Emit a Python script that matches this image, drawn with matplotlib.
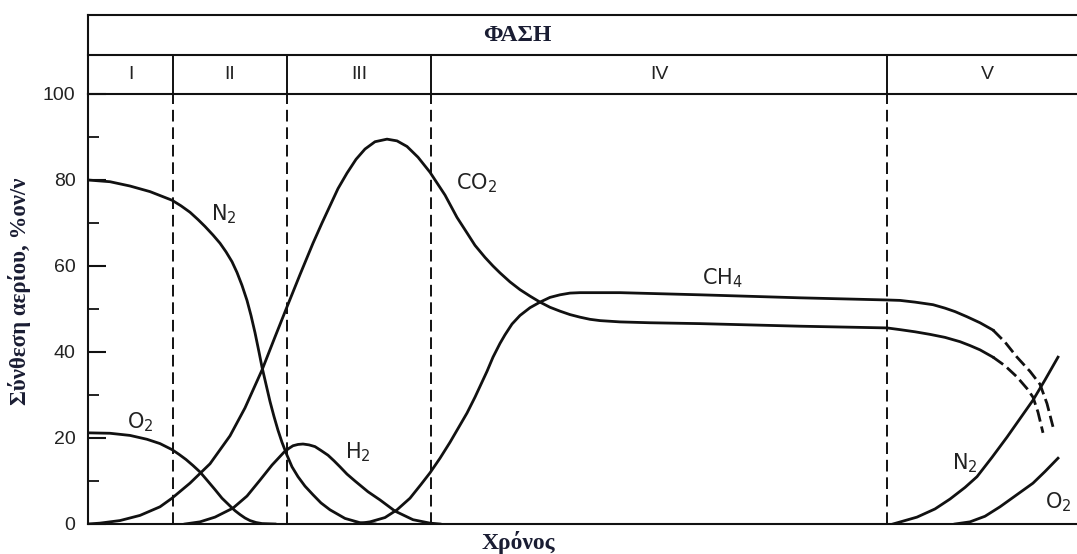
import matplotlib.pyplot as plt
from matplotlib.ticker import MultipleLocator

plt.rcParams['mathtext.fontset'] = 'custom'
plt.rcParams['mathtext.rm'] = 'Liberation Sans'
plt.rcParams['mathtext.it'] = 'Liberation Sans'

# Φάσεις (όρια στον άξονα του χρόνου, αυθαίρετες μονάδες)
phase_edges = [0, 85, 199, 343, 799, 1000]
phase_names = ['I', 'II', 'III', 'IV', 'V']

# N2 στην αρχή (φάσεις I-III)
n2_t = [0, 22, 42, 62, 84, 93, 102, 110, 117, 125, 132, 138, 144, 149, 154, 159,
        163, 167, 171, 174, 178, 182, 186, 190, 194, 199, 204, 210, 217, 225,
        233, 242, 257, 272, 287]
n2_v = [80, 79.6, 78.6, 77.3, 75.3, 74, 72.5, 70.8, 69.2, 67.2, 65.3, 63.3, 61,
        58.5, 55.5, 52, 48.5, 44.5, 40, 36.5, 32.5, 28.5, 25, 21.8, 19, 16,
        13.3, 11, 8.8, 6.8, 4.9, 3.3, 1.3, 0.3, 0]

# O2 στην αρχή
o2_t = [0, 22, 42, 59, 72, 84, 91, 98, 105, 112, 119, 127, 134, 142, 147, 152,
        157, 162, 168, 174, 187]
o2_v = [21.2, 21.1, 20.6, 19.7, 18.7, 17.3, 16.2, 15, 13.6, 12.1, 10.2, 8, 6,
        4.2, 3.1, 2.2, 1.4, 0.8, 0.35, 0.1, 0]

# H2
h2_t = [97, 112, 127, 145, 159, 172, 184, 196, 201, 205, 210, 215, 221, 227,
        233, 240, 246, 252, 259, 267, 280, 292, 307, 325, 342, 352]
h2_v = [0, 0.5, 1.6, 3.7, 6.5, 10.2, 13.7, 16.7, 17.6, 18.2, 18.5, 18.6, 18.4,
        18, 17.1, 16, 14.7, 13.3, 11.6, 10, 7.5, 5.6, 3, 1, 0.2, 0]

# CO2
co2_t = [0, 12, 32, 52, 72, 84, 102, 122, 142, 157, 174, 187, 199, 212, 225,
         234, 242, 250, 259, 268, 277, 287, 299, 309, 319, 330, 342, 357, 369,
         379, 387, 397, 405, 412, 422, 432, 442, 452, 462, 472, 482, 492, 502,
         512, 532, 562, 612, 712, 799, 812, 827, 842, 857, 872, 882, 892, 905]
co2_v = [0, 0.2, 0.8, 2, 4, 6, 9.5, 14, 20.5, 27, 35.8, 43.5, 50.5, 58, 65.3,
         70, 74, 78, 81.6, 84.8, 87.2, 88.9, 89.5, 89.1, 87.8, 85.3, 81.8, 76.5,
         71.3, 67.7, 64.8, 62, 60, 58.4, 56.3, 54.5, 53, 51.6, 50.4, 49.5, 48.7,
         48.1, 47.6, 47.3, 47, 46.8, 46.6, 46, 45.6, 45.2, 44.7, 44.1, 43.4,
         42.4, 41.5, 40.5, 38.8]
co2_dash_t = [905, 917, 929, 939, 945, 950, 955]
co2_dash_v = [38.8, 36.8, 34.2, 31.5, 29.5, 26, 21.2]

# CH4
ch4_t = [267, 282, 297, 309, 322, 333, 342, 352, 362, 372, 379, 387, 392, 399,
         405, 412, 417, 424, 432, 442, 452, 462, 472, 482, 492, 532, 612, 712,
         799, 812, 827, 845, 857, 867, 879, 892, 905]
ch4_v = [0, 0.5, 1.5, 3.3, 6, 9.2, 11.9, 15.3, 19, 23, 25.8, 29.5, 32, 35.5,
         38.8, 42, 44, 46.5, 48.5, 50.3, 51.6, 52.7, 53.3, 53.7, 53.8, 53.8,
         53.3, 52.6, 52.1, 52, 51.6, 51, 50.2, 49.4, 48.2, 46.8, 45.1]
ch4_dash_t = [905, 917, 929, 942, 952, 959, 965]
ch4_dash_v = [45.1, 42.3, 38.8, 35.5, 32.5, 28, 22.6]

# N2 και O2 στη φάση V
n2v_t = [805, 829, 847, 862, 877, 889, 904, 919, 932, 945, 957, 970]
n2v_v = [0, 1.6, 3.5, 5.8, 8.5, 11, 15.5, 20.2, 24.5, 28.8, 33.5, 38.8]
o2v_t = [867, 882, 897, 912, 927, 945, 957, 970]
o2v_v = [0, 0.5, 1.8, 4, 6.5, 9.5, 12.2, 15.3]

ink = '#111111'
title_col = '#1a1d33'

fig = plt.figure(figsize=(10.77, 5.54), dpi=100)
ax = fig.add_axes([88 / 1077, 30 / 554, 989 / 1077, 430 / 554])
ax.set_xlim(0, 989)
ax.set_ylim(0, 100)

lw = 2.0
for t, v in [(n2_t, n2_v), (o2_t, o2_v), (h2_t, h2_v), (co2_t, co2_v),
             (ch4_t, ch4_v), (n2v_t, n2v_v), (o2v_t, o2v_v)]:
    ax.plot(t, v, color=ink, lw=lw, solid_joinstyle='round')
for t, v in [(co2_dash_t, co2_dash_v), (ch4_dash_t, ch4_dash_v)]:
    ax.plot(t, v, color=ink, lw=lw, linestyle=(0, (4.5, 1.8)))

# κατακόρυφες διακεκομμένες γραμμές ορίων φάσεων
for x in phase_edges[1:-1]:
    ax.plot([x, x], [0, 100], color=ink, lw=1.4, linestyle=(0, (6, 3)))
    ax.plot([x, x], [100, 109.1], color=ink, lw=1.4, clip_on=False)

# πλαίσιο κεφαλίδας
for y in [109.1, 118.4]:
    ax.plot([0, 989], [y, y], color=ink, lw=1.5, clip_on=False)
ax.plot([0, 0], [100, 118.4], color=ink, lw=1.5, clip_on=False)

for i, name in enumerate(phase_names):
    xc = (phase_edges[i] + phase_edges[i + 1]) / 2
    ax.text(xc, 104.6, name, ha='center', va='center', fontsize=14,
            family='Liberation Sans', color='#222222', clip_on=False)
ax.text(429, 113.6, 'ΦΑΣΗ', ha='center', va='center', fontsize=17,
        family='Liberation Serif', fontweight='bold', color=title_col)

# ετικέτες καμπυλών
labels = [(52, 23.7, r'$\mathregular{O_2}$'),
          (136, 72.1, r'$\mathregular{N_2}$'),
          (270, 16.7, r'$\mathregular{H_2}$'),
          (389, 79.3, r'$\mathregular{CO_2}$'),
          (634, 57.2, r'$\mathregular{CH_4}$'),
          (877, 14.2, r'$\mathregular{N_2}$'),
          (970, 5.1, r'$\mathregular{O_2}$')]
for x, y, s in labels:
    ax.text(x, y, s, ha='center', va='center', fontsize=15, color='#222222')

for side in ['left', 'top', 'bottom']:
    ax.spines[side].set_linewidth(1.5)
    ax.spines[side].set_color(ink)
ax.spines['right'].set_visible(False)

ax.set_xticks([])
ax.yaxis.set_major_locator(MultipleLocator(20))
ax.yaxis.set_minor_locator(MultipleLocator(10))
ax.tick_params(axis='y', which='major', direction='in', length=13, width=1.5,
               pad=9, labelsize=14, colors=ink, labelcolor='#222222')
ax.tick_params(axis='y', which='minor', direction='in', length=8, width=1.3,
               colors=ink)
for lab in ax.get_yticklabels():
    lab.set_family('Liberation Sans')

ax.set_ylabel('Σύνθεση αερίου, %ον/ν', fontsize=16.5, family='Liberation Serif',
              fontweight='bold', color=title_col)
ax.yaxis.set_label_coords(-0.058, 0.54)
ax.text(0.435, -0.044, 'Χρόνος', transform=ax.transAxes, ha='center',
        va='center', fontsize=17, family='Liberation Serif', fontweight='bold',
        color=title_col)

fig.savefig('out.png', dpi=100)
